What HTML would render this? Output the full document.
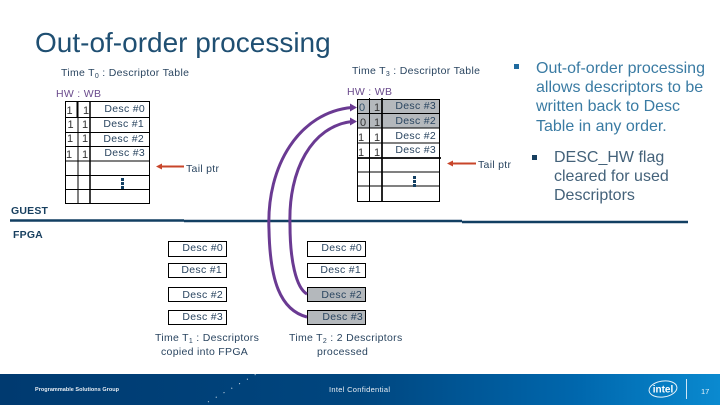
<!DOCTYPE html>
<html><head><meta charset="utf-8"><style>
html,body{margin:0;padding:0;background:#fff}
svg{display:block;font-family:"Liberation Sans",sans-serif}
text{white-space:pre}
.t{font-size:10.5px;fill:#2a4560;letter-spacing:.3px}
.b{font-size:16px;fill:#3a7ba3}
.c{font-size:16px;fill:#44627a}
.n{font-size:11px;fill:#333;text-anchor:middle}
.h{font-size:10.5px;fill:#6a4a8c;letter-spacing:.3px}
.l{stroke:#000;stroke-width:1;fill:none}
.k{stroke:#000;stroke-width:2;fill:none}
.p{stroke:#6a3a92;stroke-width:3;fill:none}
</style></head><body>
<svg width="720" height="405" viewBox="0 0 720 405" xmlns="http://www.w3.org/2000/svg">
<defs>
<linearGradient id="g" x1="0" x2="1" y1="0" y2="0"><stop offset="0" stop-color="#003a70"/><stop offset=".5" stop-color="#00467f"/><stop offset=".8" stop-color="#0067ad"/><stop offset="1" stop-color="#0a8ad0"/></linearGradient>
</defs>
<rect width="720" height="405" fill="#fff"/>
<text x="35" y="52" font-size="28" fill="#1f4f72">Out-of-order processing</text>

<!-- T0 table -->
<text x="61" y="76" class="t">Time T<tspan font-size="7" dy="2">0</tspan><tspan dy="-2"> : Descriptor Table</tspan></text>
<text x="56" y="97" class="h">HW : WB</text>
<g class="l">
<rect x="65.5" y="101.5" width="84" height="102"/>
<path d="M65.5 117.5H149.5M65.5 132.5H149.5M65.5 146.5H149.5M65.5 161H149.5M65.5 175.5H149.5M65.5 189.5H149.5M78 101V204"/>
</g>
<path d="M90 101V204" stroke="#000" stroke-width="1.5" fill="none"/>
<path d="M77.500 101V117" class="k"/>
<g class="n"><text x="69.500" y="114">1</text><text x="86" y="114">1</text><text x="70.500" y="128">1</text><text x="85" y="128">1</text><text x="70" y="142">1</text><text x="85" y="142">1</text><text x="69" y="158">1</text><text x="85" y="158">1</text></g>
<g class="t" text-anchor="end"><text x="145" y="112">Desc #0</text><text x="144" y="127">Desc #1</text><text x="144" y="142">Desc #2</text><text x="145" y="156">Desc #3</text></g>
<path d="M122.500 178v3m0 1v3m0 1v3" stroke="#123f62" stroke-width="3" fill="none"/>
<path d="M184 166.500H158" stroke="#c8452a" stroke-width="2"/><path d="M156 166.500l6-3v6z" fill="#c8452a"/>
<text x="186" y="172" class="t">Tail ptr</text>

<!-- T3 table -->
<text x="352" y="74" class="t">Time T<tspan font-size="7" dy="2">3</tspan><tspan dy="-2"> : Descriptor Table</tspan></text>
<text x="347" y="95" class="h">HW : WB</text>
<rect x="357" y="99" width="83" height="29" fill="#b4b8bc"/>
<g class="l">
<rect x="357.500" y="99.500" width="82" height="102"/>
<path d="M357.500 113.500H440M357.500 128H440M357.500 143H440M357.500 172H440M357.500 186H440M369.500 98V201"/>
</g>
<path d="M382 98V201M357 158H441" stroke="#000" stroke-width="1.700"/>
<g class="n"><text x="362" y="111" fill="#33526b">0</text><text x="377" y="111">1</text><text x="363" y="126">0</text><text x="377" y="126">1</text><text x="361" y="141">1</text><text x="377" y="141">1</text><text x="361" y="156">1</text><text x="377" y="156">1</text></g>
<g class="t" text-anchor="end"><text x="436" y="109">Desc #3</text><text x="436" y="124">Desc #2</text><text x="436" y="139">Desc #2</text><text x="436" y="153">Desc #3</text></g>
<path d="M414.500 176v3m0 1v3m0 1v3" stroke="#123f62" stroke-width="3" fill="none"/>
<path d="M476 163.500H450" stroke="#c8452a" stroke-width="2"/><path d="M447 163.500l6-3v6z" fill="#c8452a"/>
<text x="478" y="168" class="t">Tail ptr</text>

<!-- right bullets -->
<rect x="514" y="64" width="5" height="5" fill="#1f6a9f"/>
<g class="b"><text x="536" y="73">Out-of-order processing</text><text x="536" y="92">allows descriptors to be</text><text x="536" y="111">written back to Desc</text><text x="536" y="131">Table in any order.</text></g>
<rect x="532" y="155" width="5" height="5" fill="#173f5f"/>
<g class="c"><text x="554" y="162">DESC_HW flag</text><text x="554" y="181">cleared for used</text><text x="554" y="200">Descriptors</text></g>

<!-- divider -->
<path d="M10 220.500H184" stroke="#123f62" stroke-width="2.500"/>
<path d="M184 221H462" stroke="#123f62" stroke-width="2.500"/>
<path d="M462 222H688" stroke="#123f62" stroke-width="2.500"/>
<text x="11" y="214" font-size="10.500" font-weight="bold" fill="#173f5f" letter-spacing=".2">GUEST</text>
<text x="13" y="238" font-size="10.500" font-weight="bold" fill="#173f5f" letter-spacing=".2">FPGA</text>

<!-- FPGA boxes -->
<g fill="#fff" stroke="#000">
<rect x="168.500" y="241.500" width="58" height="15"/><rect x="168.500" y="263.500" width="58" height="14"/><rect x="168.500" y="287.500" width="58" height="14"/><rect x="168.500" y="310.500" width="58" height="14"/>
<rect x="307.500" y="241.500" width="58" height="15"/><rect x="307.500" y="263.500" width="58" height="14"/>
<rect x="307.500" y="287.500" width="58" height="14" fill="#b4b8bc"/><rect x="307.500" y="310.500" width="58" height="14" fill="#b4b8bc"/>
</g>
<g class="t" text-anchor="end"><text x="223" y="251">Desc #0</text><text x="222" y="273">Desc #1</text><text x="223" y="298">Desc #2</text><text x="223" y="320">Desc #3</text><text x="362" y="251">Desc #0</text><text x="361" y="273">Desc #1</text><text x="362" y="298">Desc #2</text><text x="363" y="320">Desc #3</text></g>
<text x="155" y="341" class="t">Time T<tspan font-size="7" dy="2">1</tspan><tspan dy="-2"> : Descriptors</tspan></text>
<text x="161" y="355" class="t">copied into FPGA</text>
<text x="289" y="341" class="t">Time T<tspan font-size="7" dy="2">2</tspan><tspan dy="-2"> : 2 Descriptors</tspan></text>
<text x="317" y="355" class="t">processed</text>

<!-- purple connectors -->
<path class="p" d="M307 317C280 310 270 280 269 230C266 165 300 112 352 107.500"/>
<path class="p" d="M307 294C296 288 290 260 290 225C288 170 312 126 352 121.500"/>
<path d="M357 107.500l-7-4v8zM357 121.500l-7-4v8z" fill="#6a3a92"/>

<!-- footer -->
<rect y="374" width="720" height="31" fill="url(#g)"/>
<text x="35" y="391" font-size="5.500" font-weight="bold" fill="#e8eef4" textLength="84">Programmable Solutions Group</text>
<text x="329" y="392" font-size="7.500" fill="#e8eef4" textLength="61">Intel Confidential</text>
<path d="M208 402L258 373" stroke="#dfe8f0" stroke-width="1" stroke-dasharray="1 8" fill="none"/>
<ellipse cx="663" cy="389" rx="14" ry="8" fill="none" stroke="#e6f2fa" stroke-width="1" transform="rotate(-8 663 389)"/>
<text x="663" y="392.500" font-size="10" font-weight="bold" fill="#fff" text-anchor="middle">intel</text>
<path d="M686.500 379V399" stroke="#cfe6f5" stroke-width="1"/>
<text x="701" y="394" font-size="7.500" fill="#e8f3fa">17</text>
</svg>
</body></html>
